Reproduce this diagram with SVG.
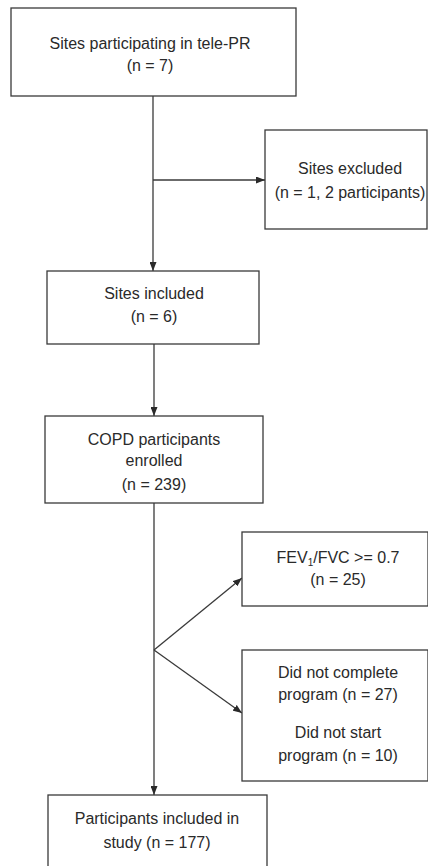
<svg xmlns="http://www.w3.org/2000/svg" width="428" height="866" viewBox="0 0 428 866">
<style>
.box{fill:#fff;stroke:#3a3a3a;stroke-width:1.3}
.t{font-family:"Liberation Sans",Arial,sans-serif;font-size:16px;fill:#2a2a2a;text-anchor:middle}
.c{fill:none;stroke:#3a3a3a;stroke-width:1.3}
</style>
<defs>
<marker id="ah" markerWidth="9" markerHeight="7" refX="9" refY="3.5" orient="auto" markerUnits="userSpaceOnUse">
<path d="M0,0 L9,3.5 L0,7 Z" fill="#2a2a2a"/>
</marker>
</defs>
<rect width="428" height="866" fill="#fff"/>
<g id="connectors">
<line class="c" x1="153" y1="96" x2="153" y2="271" marker-end="url(#ah)"/>
<line class="c" x1="153" y1="180" x2="265" y2="180" marker-end="url(#ah)"/>
<line class="c" x1="154" y1="344" x2="154" y2="416" marker-end="url(#ah)"/>
<line class="c" x1="154" y1="503" x2="154" y2="795" marker-end="url(#ah)"/>
<line class="c" x1="154" y1="650" x2="242" y2="578" marker-end="url(#ah)"/>
<line class="c" x1="154" y1="650" x2="242" y2="713" marker-end="url(#ah)"/>
</g>
<g id="n1">
<rect class="box" x="11" y="8" width="285" height="88"/>
<text class="t" x="150" y="49">Sites participating in tele-PR</text>
<text class="t" x="150" y="71">(n = 7)</text>
</g>
<g id="n2">
<rect class="box" x="265" y="130" width="162" height="99"/>
<text class="t" x="350" y="174">Sites excluded</text>
<text class="t" x="350" y="198">(n = 1, 2 participants)</text>
</g>
<g id="n3">
<rect class="box" x="47" y="271" width="212" height="73"/>
<text class="t" x="154" y="299">Sites included</text>
<text class="t" x="154" y="322">(n = 6)</text>
</g>
<g id="n4">
<rect class="box" x="45" y="416" width="218" height="87"/>
<text class="t" x="154" y="445">COPD participants</text>
<text class="t" x="154" y="466">enrolled</text>
<text class="t" x="154" y="490">(n = 239)</text>
</g>
<g id="n5">
<rect class="box" x="242" y="532" width="186" height="74"/>
<text class="t" x="338" y="563">FEV<tspan font-size="10" dy="3">1</tspan><tspan dy="-3">/FVC &gt;= 0.7</tspan></text>
<text class="t" x="338" y="585">(n = 25)</text>
</g>
<g id="n6">
<rect class="box" x="242" y="650" width="186" height="131"/>
<text class="t" x="338" y="678">Did not complete</text>
<text class="t" x="338" y="700">program (n = 27)</text>
<text class="t" x="338" y="738">Did not start</text>
<text class="t" x="338" y="761">program (n = 10)</text>
</g>
<g id="n7">
<rect class="box" x="48" y="795" width="219" height="80"/>
<text class="t" x="157" y="824">Participants included in</text>
<text class="t" x="157" y="848">study (n = 177)</text>
</g>
</svg>
